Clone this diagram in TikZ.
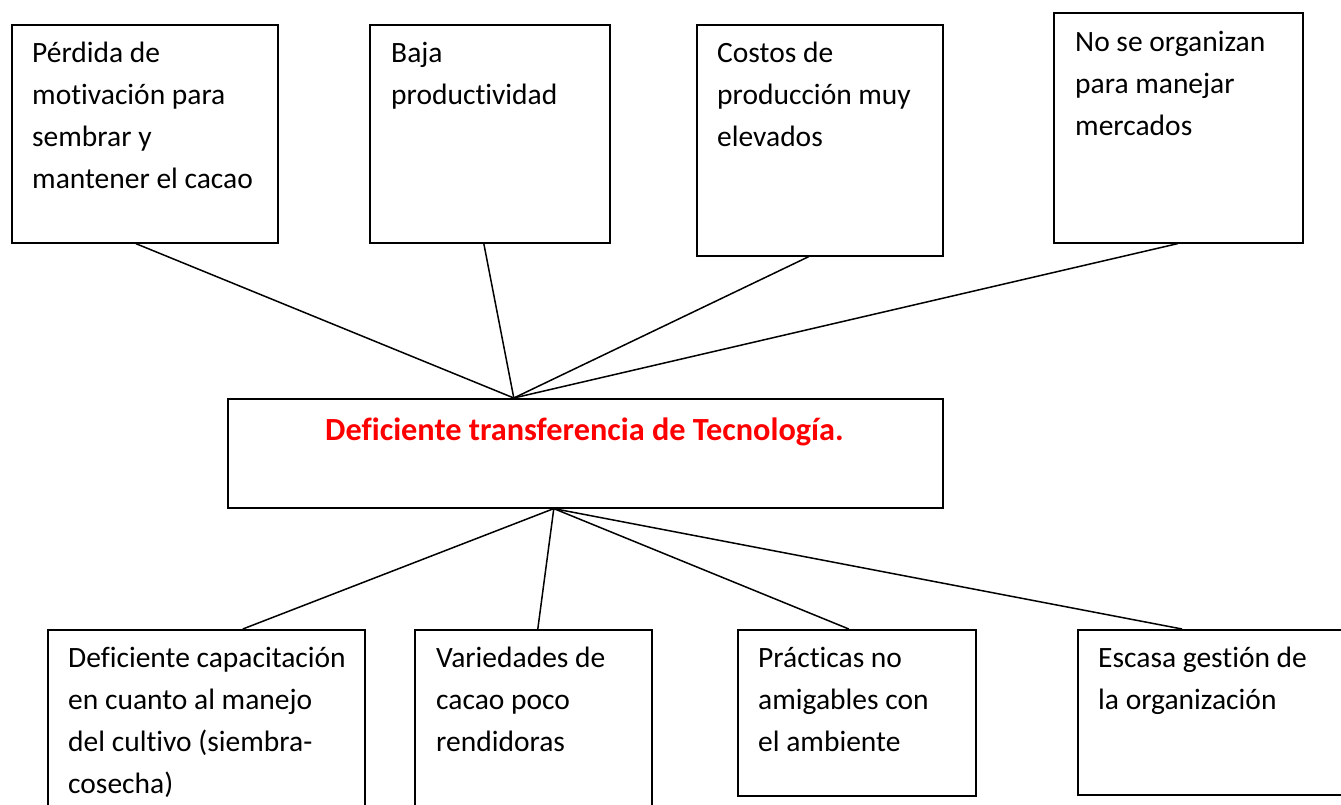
\documentclass[tikz,border=0pt]{standalone}
\usepackage{fontspec}
\setmainfont{Carlito}[RawFeature={-liga;-clig;-calt;-dlig}]
\usetikzlibrary{calc}
\definecolor{redtxt}{RGB}{255,0,0}
\tikzset{
  boxshape/.style={draw=black, line width=1.6pt, rectangle, inner sep=0pt, anchor=north west},
  boxtext/.style={anchor=north west, inner sep=0pt, align=left, font=\fontsize{29.5}{41.7}\selectfont},
  link/.style={draw=black, line width=1.5pt},
}
\begin{document}
\begin{tikzpicture}[x=1pt,y=-1pt]
\clip (0,0) rectangle (1341,805);
\fill[white] (0,0) rectangle (1341,805);
% top boxes
\node[boxshape, minimum width=266pt, minimum height=218pt] (b1) at (11,24) {};
\node[boxshape, minimum width=240pt, minimum height=218pt] (b2) at (369,24) {};
\node[boxshape, minimum width=246pt, minimum height=231pt] (b3) at (696,24) {};
\node[boxshape, minimum width=249pt, minimum height=230pt] (b4) at (1053,12) {};
% center
\node[boxshape, minimum width=715pt, minimum height=109pt] (c) at (227,398) {};
% bottom boxes
\node[boxshape, minimum width=317pt, minimum height=200pt] (b5) at (47,629) {};
\node[boxshape, minimum width=237pt, minimum height=200pt] (b6) at (414,629) {};
\node[boxshape, minimum width=238pt, minimum height=166pt] (b7) at (737,629) {};
\node[boxshape, minimum width=300pt, minimum height=165pt] (b8) at (1077,629) {};
% texts
\node[boxtext] (t1) at ([shift={(21pt,-9.6pt)}]b1.north west) {\strut P\'erdida de\\motivaci\'on para\\sembrar y\\mantener el cacao};
\node[boxtext] (t2) at ([shift={(22pt,-9.6pt)}]b2.north west) {\strut Baja\\productividad};
\node[boxtext] (t3) at ([shift={(21pt,-9.6pt)}]b3.north west) {\strut Costos de\\producci\'on muy\\elevados};
\node[boxtext] (t4) at ([shift={(22pt,-10.6pt)}]b4.north west) {\strut No se organizan\\para manejar\\mercados};
\node[anchor=base, inner sep=0pt, text=redtxt, font=\fontsize{32.3}{41.7}\selectfont\bfseries] (tc) at (584.5,440) {Deficiente transferencia de Tecnolog\'ia.};
\node[boxtext] (t5) at ([shift={(21pt,-9.6pt)}]b5.north west) {\strut Deficiente capacitaci\'on\\en cuanto al manejo\\del cultivo (siembra-\\cosecha)};
\node[boxtext] (t6) at ([shift={(22pt,-9.6pt)}]b6.north west) {\strut Variedades de\\cacao poco\\rendidoras};
\node[boxtext] (t7) at ([shift={(21pt,-9.6pt)}]b7.north west) {\strut Pr\'acticas no\\amigables con\\el ambiente};
\node[boxtext] (t8) at ([shift={(21pt,-9.6pt)}]b8.north west) {\strut Escasa gesti\'on de\\la organizaci\'on};
% connector hubs
\coordinate (ctop) at ([xshift=-71.5pt]c.north);
\coordinate (cbot) at ([xshift=-31.5pt]c.south);
% connectors top
\draw[link] ([xshift=-9pt]b1.south) -- (ctop);
\draw[link] ([xshift=-6pt]b2.south) -- (ctop);
\draw[link] ([xshift=-11pt]b3.south) -- (ctop);
\draw[link] ([xshift=-0.5pt]b4.south) -- (ctop);
% connectors bottom
\draw[link] (cbot) -- ([xshift=36.5pt]b5.north);
\draw[link] (cbot) -- ([xshift=4.5pt]b6.north);
\draw[link] (cbot) -- ([xshift=-8pt]b7.north);
\draw[link] (cbot) -- ([xshift=105pt]b8.north west);
\end{tikzpicture}
\end{document}
